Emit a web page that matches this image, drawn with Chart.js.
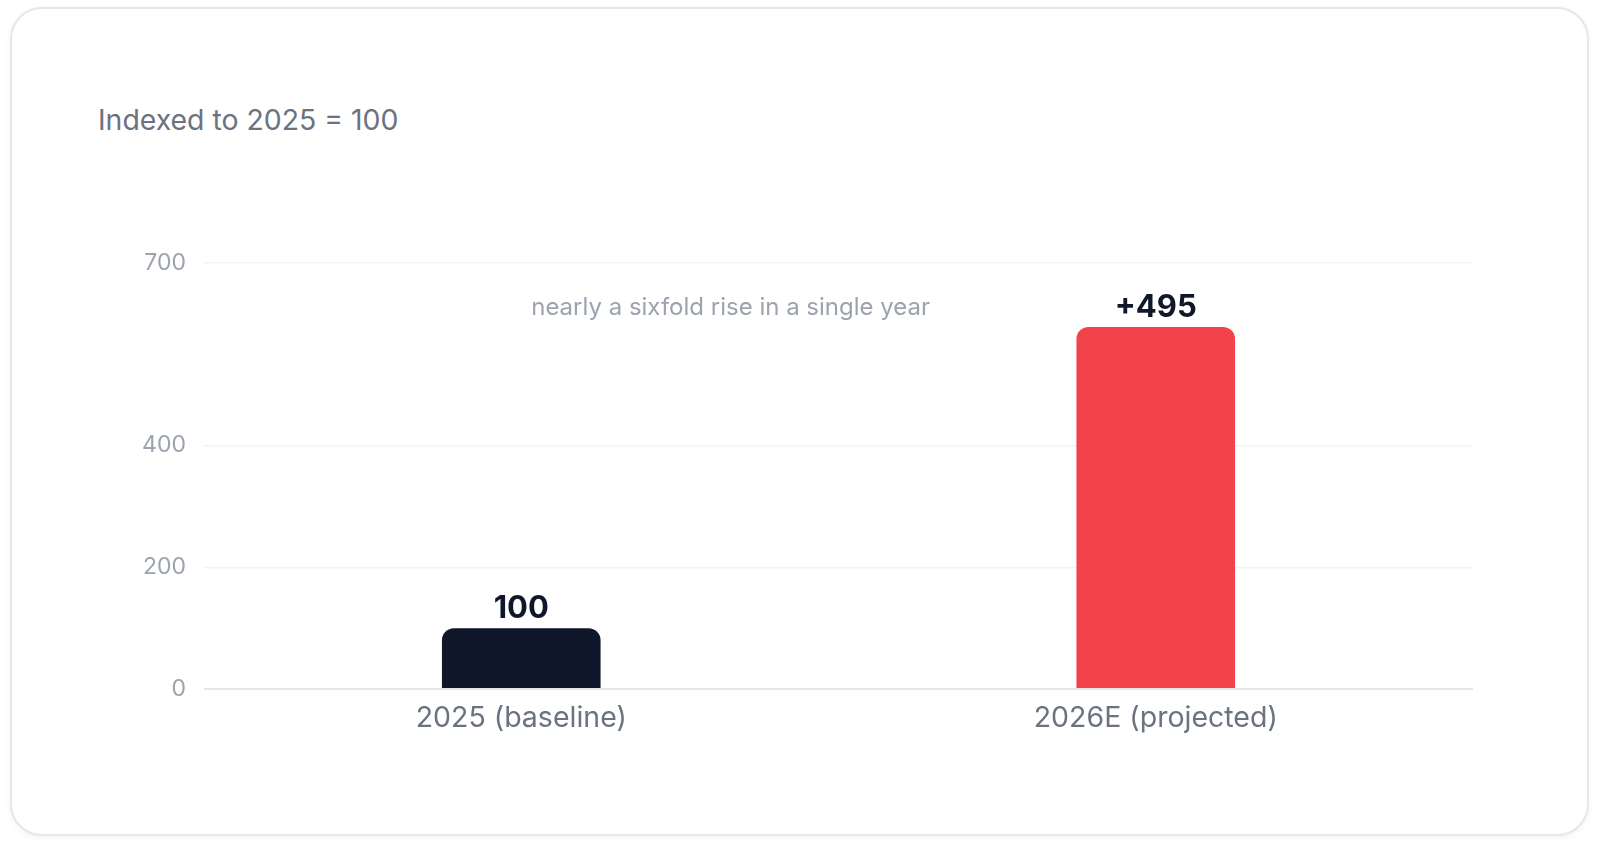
<!DOCTYPE html>
<html>
<head>
<meta charset="utf-8">
<script src="https://cdn.jsdelivr.net/npm/chart.js@4.4.1/dist/chart.umd.min.js"></script>
<style>
    html, body {
        margin: 0;
        padding: 0;
        background: #ffffff;
        width: 1598px;
        height: 848px;
        overflow: hidden;
        font-family: Inter, "Noto Sans", sans-serif;
    }

    .card {
        position: absolute;
        left: 10px;
        top: 7px;
        width: 1575px;
        height: 825px;
        border: 2px solid #e5e7eb;
        border-radius: 32px;
        background: #ffffff;
        box-shadow: 0 2px 6px rgba(15, 23, 42, 0.05);
    }

    .subtitle {
        position: absolute;
        left: 98px;
        top: 102px;
        font-size: 28.4px;
        color: #6b7280;
        white-space: nowrap;
    }

    #wrap {
        position: absolute;
        left: 0;
        top: 0;
        width: 1598px;
        height: 848px;
    }
</style>
</head>
<body>

<div class="card"></div>
<div class="subtitle">Indexed to 2025 = 100</div>
<div id="wrap"><canvas id="indexChart"></canvas></div>

<script>
// ==========================================
// Index chart: 2025 baseline vs 2026E
// ==========================================

const categories = ["2025 (baseline)", "2026E (projected)"];
const indexValues = [100, 595];
const valueLabels = ["100", "+495"];
const barColors = ["#0f172a", "#f2424a"];
const yTicks = [0, 200, 400, 700];

const noteText = "nearly a sixfold rise in a single year";
const notePos = { x: 0.33, y: 626 };

// labels above each bar
const valueLabelPlugin = {
    id: "valueLabels",
    afterDatasetsDraw(chart) {
        const ctx = chart.ctx;
        const meta = chart.getDatasetMeta(0);

        ctx.save();
        ctx.font = "bold 31px Inter";
        ctx.fillStyle = "#0f172a";
        ctx.textAlign = "center";
        ctx.textBaseline = "bottom";

        meta.data.forEach(function (bar, i) {
            ctx.fillText(valueLabels[i], bar.x, bar.y - 4);
        });

        ctx.restore();
    }
};

// annotation text
const notePlugin = {
    id: "note",
    afterDatasetsDraw(chart) {
        const ctx = chart.ctx;
        const x = chart.scales.x.getPixelForValue(notePos.x);
        const y = chart.scales.y.getPixelForValue(notePos.y);

        ctx.save();
        ctx.font = "24px Inter";
        ctx.fillStyle = "#9ca3af";
        ctx.textAlign = "center";
        ctx.textBaseline = "middle";
        ctx.fillText(noteText, x, y);
        ctx.restore();
    }
};

const indexChart = new Chart(
    document.getElementById("indexChart"),
    {
        type: "bar",

        data: {
            labels: categories,
            datasets: [{
                data: indexValues,
                backgroundColor: barColors,
                borderRadius: 12,
                borderSkipped: "start",
                categoryPercentage: 1,
                barPercentage: 0.25
            }]
        },

        options: {
            responsive: true,
            maintainAspectRatio: false,
            animation: false,

            layout: {
                padding: {
                    top: 263,
                    right: 125,
                    bottom: 0,
                    left: 0
                }
            },

            plugins: {
                legend: {
                    display: false
                },
                tooltip: {
                    enabled: false
                }
            },

            scales: {

                x: {
                    grid: {
                        display: false
                    },
                    border: {
                        display: false
                    },
                    ticks: {
                        color: "#6b7280",
                        padding: 4,
                        font: {
                            family: "Inter",
                            size: 28.5
                        }
                    },
                    afterFit(scale) {
                        scale.height = 159;
                    }
                },

                y: {
                    min: 0,
                    max: 700,
                    border: {
                        display: false
                    },
                    grid: {
                        drawTicks: false,
                        color(ctx) {
                            return ctx.tick && ctx.tick.value === 0 ? "#e5e7eb" : "#f3f4f6";
                        },
                        lineWidth(ctx) {
                            return ctx.tick && ctx.tick.value === 0 ? 2 : 1.5;
                        }
                    },
                    afterBuildTicks(scale) {
                        scale.ticks = yTicks.map(function (v) {
                            return { value: v };
                        });
                    },
                    ticks: {
                        color: "#9ca3af",
                        padding: 18,
                        font: {
                            family: "Inter",
                            size: 23
                        }
                    },
                    afterFit(scale) {
                        scale.width = 204;
                    }
                }

            }
        },

        plugins: [valueLabelPlugin, notePlugin]
    }
);
</script>
</body>
</html>
